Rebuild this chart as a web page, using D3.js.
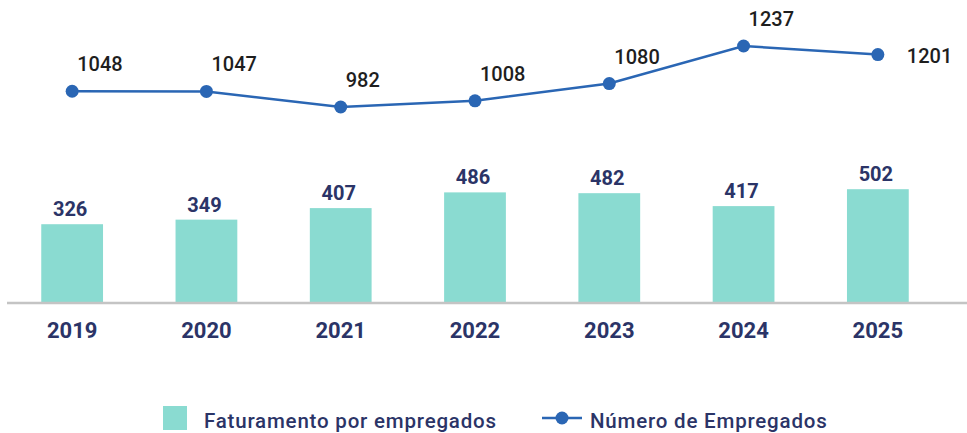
<!DOCTYPE html>
<html><head><meta charset="utf-8">
<script src="https://cdn.jsdelivr.net/npm/d3@7"></script>
<style>
html,body{margin:0;padding:0;background:#fff;}
svg{display:block;font-family:Roboto, "Noto Sans", sans-serif;}
</style></head>
<body><svg id="c" width="967" height="433"></svg>
<script>
const years = ["2019","2020","2021","2022","2023","2024","2025"];
const faturamento = [326, 349, 407, 486, 482, 417, 502];
const empregados = [1048, 1047, 982, 1008, 1080, 1237, 1201];
const legendLabels = ["Faturamento por empregados", "Número de Empregados"];

const W = 967, H = 433;
const svg = d3.select("#c");
const navy = "#2B3467", teal = "#8ADBD1", blue = "#2A66B4";

const x = d3.scaleBand().domain(years).range([5, 945]).paddingInner(0.54).paddingOuter(0.27);
const yBar = d3.scaleLinear().domain([-70, 600]).range([303, 169.7]);
const yLine = d3.scaleLinear().domain([0, 1400]).range([342, 7]);
const cx = d => x(d) + x.bandwidth() / 2;

// bars
svg.append("g").selectAll("rect").data(years).join("rect")
  .attr("x", d => x(d)).attr("width", x.bandwidth())
  .attr("y", (d, i) => yBar(faturamento[i]))
  .attr("height", (d, i) => yBar(-70) - yBar(faturamento[i]))
  .attr("fill", teal);

// axis
const axis = svg.append("g").attr("transform", "translate(0,303)")
  .call(d3.axisBottom(x).tickSize(0).tickPadding(35));
axis.select(".domain").attr("stroke", "#c4c4c4").attr("stroke-width", 2.5).attr("d", "M7,0H967");
axis.selectAll("text").attr("fill", navy).attr("font-size", 22).attr("font-weight", 700)
  .attr("font-family", "Roboto, sans-serif").attr("dy", 0);

// bar labels
svg.append("g").selectAll("text").data(years).join("text")
  .attr("x", d => cx(d) - 2).attr("y", (d, i) => yBar(faturamento[i]) - 8)
  .attr("text-anchor", "middle").attr("fill", navy)
  .attr("font-size", 20).attr("font-weight", 700)
  .text((d, i) => faturamento[i]);

// line
const line = d3.line().x((d, i) => cx(years[i])).y(d => yLine(d));
svg.append("path").datum(empregados).attr("d", line)
  .attr("fill", "none").attr("stroke", blue).attr("stroke-width", 2.5);
svg.append("g").selectAll("circle").data(empregados).join("circle")
  .attr("cx", (d, i) => cx(years[i])).attr("cy", d => yLine(d)).attr("r", 6.5)
  .attr("fill", blue);

// line labels
const last = empregados.length - 1;
svg.append("g").selectAll("text").data(empregados).join("text")
  .attr("x", (d, i) => cx(years[i]) + (i === last ? 29 : 5))
  .attr("y", (d, i) => yLine(d) + (i === last ? 8 : -20))
  .attr("fill", "#1e1e1e").attr("font-size", 20).attr("font-weight", 500)
  .text(d => d);

// legend
const lg = svg.append("g");
lg.append("rect").attr("x", 163).attr("y", 406).attr("width", 24).attr("height", 24).attr("fill", teal);
lg.append("text").attr("x", 204).attr("y", 428).attr("fill", navy)
  .attr("font-size", 20.5).attr("font-weight", 500).attr("letter-spacing", 0.8).text(legendLabels[0]);
lg.append("line").attr("x1", 542).attr("x2", 582).attr("y1", 418).attr("y2", 418)
  .attr("stroke", blue).attr("stroke-width", 2.5);
lg.append("circle").attr("cx", 562).attr("cy", 418).attr("r", 6.5).attr("fill", blue);
lg.append("text").attr("x", 590).attr("y", 428).attr("fill", navy)
  .attr("font-size", 20.5).attr("font-weight", 500).attr("letter-spacing", 0.8).text(legendLabels[1]);
</script></body></html>
